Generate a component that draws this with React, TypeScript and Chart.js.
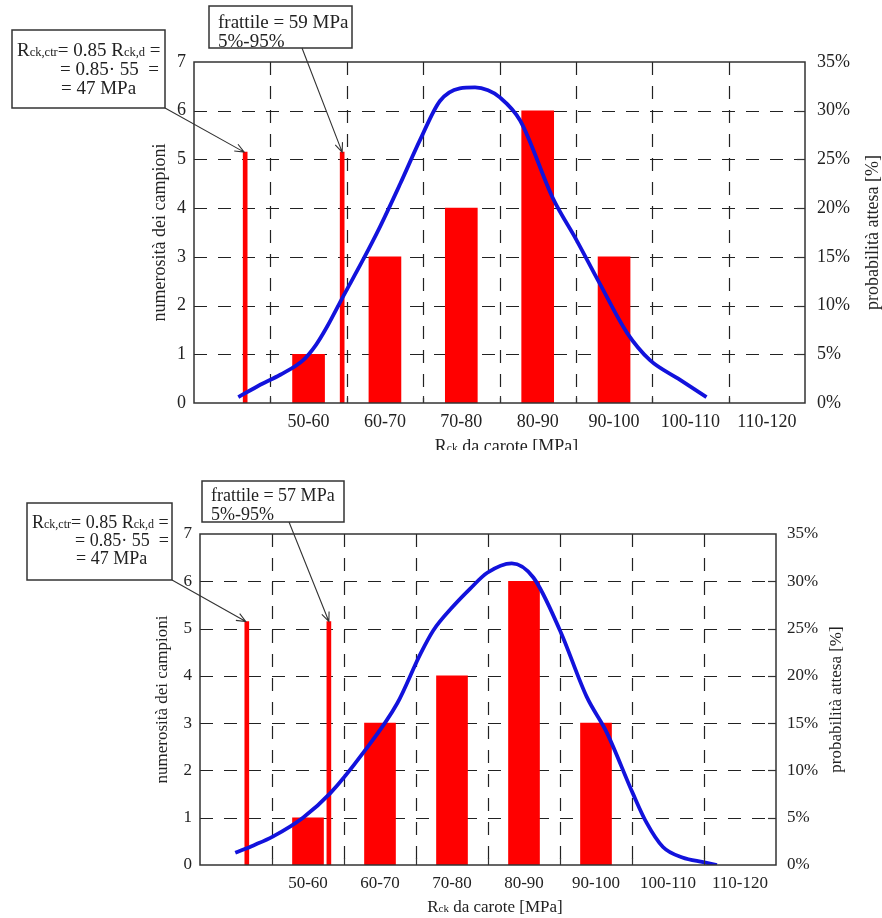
import React, { useEffect, useRef } from "react";
import { Chart, registerables } from "chart.js";

Chart.register(...registerables);

// ---------------- DATA ----------------
const xTickValues = [40, 50, 60, 70, 80, 90, 100, 110, 120];
const xTickLabels = ["", "50-60", "60-70", "70-80", "80-90", "90-100", "100-110", "110-120", ""];
const binCenters = [55, 65, 75, 85, 95];

const countsTop = [1, 3, 4, 6, 3];
const countsBottom = [1, 3, 4, 6, 3];

const markersTopX = [46.7, 59.4];
const markersTopY = [5.15, 5.15];
const markersBottomX = [46.5, 57.9];
const markersBottomY = [5.15, 5.15];

const curveTopX = [45.8, 48.5, 51.3, 54.3, 56.0, 57.4, 59.5, 62.0, 64.3, 67.0, 69.6, 72.2, 74.8, 76.8, 78.5, 80.0, 82.7, 87.0, 90.1, 93.1, 96.7, 99.7, 103.4, 107.1];
const curveTopY = [0.6, 1.8, 2.9, 4.4, 6.0, 7.8, 10.9, 14.5, 18.0, 22.5, 27.0, 31.0, 32.3, 32.4, 32.1, 31.4, 29.0, 21.0, 16.7, 12.3, 7.2, 4.4, 2.5, 0.6];

const curveBottomX = [44.9, 47.5, 50.1, 54.3, 58.1, 62.6, 67.4, 70.6, 72.4, 75.1, 77.5, 79.9, 83.3, 86.3, 90.0, 93.7, 96.5, 100.1, 102.0, 104.3, 107.0, 109.9, 111.8];
const curveBottomY = [1.3, 2.1, 3.0, 5.0, 7.6, 11.8, 17.1, 22.3, 24.8, 27.3, 29.2, 30.9, 31.9, 30.4, 24.8, 17.8, 14.0, 7.6, 4.5, 1.9, 0.8, 0.3, 0.0];

const fractileTop = ["frattile = 59 MPa", "5%-95%"];
const fractileBottom = ["frattile = 57 MPa", "5%-95%"];
const rckLine2 = "= 0.85· 55  =";
const rckLine3 = "= 47 MPa";
const leftTitle = "numerosità dei campioni";
const rightTitle = "probabilità attesa [%]";
const bottomTitleRuns = ["R", "ck", " da carote [MPa]"];

// ---------------- LAYOUT / STYLE ----------------
const FONT = '"Liberation Serif", "Times New Roman", serif';

const specTop = {
  top: 0, w: 882, h: 450,
  area: { left: 194, right: 805, top: 62, bottom: 403 },
  tick: 18, ann: 19, sub: 12.5, barW: 32, markerW: 4,
  leftTitleOff: 34, rightTitleOff: 68, bottomTitleOff: 49, rPad: 12, slot: 76.4,
  box1: { x: 12, y: 30, w: 153, h: 78, l1dx: 5, l23dx: 48, b: [26, 45, 64] },
  box2: { x: 209, y: 6, w: 143, h: 42, dx: 9, b: [22, 41], arrowDx: 93 },
};

const specBottom = {
  top: 460, w: 882, h: 458,
  area: { left: 200, right: 776, top: 74, bottom: 405 },
  tick: 17, ann: 18, sub: 12, barW: 31, markerW: 4,
  leftTitleOff: 37, rightTitleOff: 61, bottomTitleOff: 47, rPad: 11, slot: 72,
  box1: { x: 27, y: 43, w: 145, h: 77, l1dx: 5, l23dx: 48, b: [25, 43, 61] },
  box2: { x: 202, y: 21, w: 142, h: 41, dx: 9, b: [20, 39], arrowDx: 87 },
};

function drawRuns(ctx: CanvasRenderingContext2D, x: number, y: number, runs: [string, number][]) {
  let cx = x;
  for (const [t, size] of runs) {
    ctx.font = `${size}px ${FONT}`;
    ctx.fillText(t, cx, y);
    cx += ctx.measureText(t).width;
  }
  return cx;
}
function runsWidth(ctx: CanvasRenderingContext2D, runs: [string, number][]) {
  let w = 0;
  for (const [t, size] of runs) {
    ctx.font = `${size}px ${FONT}`;
    w += ctx.measureText(t).width;
  }
  return w;
}

function drawArrow(ctx: CanvasRenderingContext2D, x1: number, y1: number, x2: number, y2: number) {
  ctx.save();
  ctx.strokeStyle = "#333";
  ctx.lineWidth = 1.1;
  ctx.beginPath();
  ctx.moveTo(x1, y1);
  ctx.lineTo(x2, y2);
  const a = Math.atan2(y2 - y1, x2 - x1);
  const L = 10;
  ctx.moveTo(x2 - L * Math.cos(a - 0.4), y2 - L * Math.sin(a - 0.4));
  ctx.lineTo(x2, y2);
  ctx.lineTo(x2 - L * Math.cos(a + 0.4), y2 - L * Math.sin(a + 0.4));
  ctx.stroke();
  ctx.restore();
}

function makePlugin(spec: any, markersX: number[], markersY: number[], fractile: string[]) {
  return {
    id: "frame",
    beforeDatasetsDraw(chart: any) {
      const { ctx, chartArea: a } = chart;
      const xs = chart.scales.x;
      const ys = chart.scales.y;
      ctx.save();
      ctx.strokeStyle = "#222";
      ctx.lineWidth = 1.2;
      ctx.setLineDash([13, 11]);
      for (const v of xTickValues.slice(1, -1)) {
        const x = Math.round(xs.getPixelForValue(v)) + 0.5;
        ctx.beginPath();
        ctx.moveTo(x, a.top);
        ctx.lineTo(x, a.bottom);
        ctx.stroke();
      }
      for (let v = 1; v < 7; v++) {
        const y = Math.round(ys.getPixelForValue(v)) + 0.5;
        ctx.beginPath();
        ctx.moveTo(a.left, y);
        ctx.lineTo(a.right, y);
        ctx.stroke();
      }
      ctx.restore();
    },
    afterDatasetsDraw(chart: any) {
      const { ctx, chartArea: a } = chart;
      const xs = chart.scales.x;
      const ys = chart.scales.y;
      ctx.save();
      // frame
      ctx.strokeStyle = "#333";
      ctx.lineWidth = 1.5;
      ctx.strokeRect(a.left, a.top, a.right - a.left, a.bottom - a.top);
      ctx.lineWidth = 1.2;
      for (const v of xTickValues.slice(1, -1)) {
        const x = Math.round(xs.getPixelForValue(v)) + 0.5;
        ctx.beginPath();
        ctx.moveTo(x, a.bottom);
        ctx.lineTo(x, a.bottom - 7);
        ctx.stroke();
      }
      for (let v = 1; v < 7; v++) {
        const y = Math.round(ys.getPixelForValue(v)) + 0.5;
        ctx.beginPath();
        ctx.moveTo(a.right, y);
        ctx.lineTo(a.right - 8, y);
        ctx.stroke();
      }
      // titles
      ctx.fillStyle = "#222";
      ctx.textBaseline = "middle";
      ctx.textAlign = "center";
      ctx.font = `${spec.tick}px ${FONT}`;
      const cy = (a.top + a.bottom) / 2;
      ctx.save();
      ctx.translate(a.left - spec.leftTitleOff, cy);
      ctx.rotate(-Math.PI / 2);
      ctx.fillText(leftTitle, 0, 0);
      ctx.restore();
      ctx.save();
      ctx.translate(a.right + spec.rightTitleOff, cy);
      ctx.rotate(-Math.PI / 2);
      ctx.fillText(rightTitle, 0, 0);
      ctx.restore();
      ctx.textAlign = "left";
      ctx.textBaseline = "alphabetic";
      const bRuns: [string, number][] = [
        [bottomTitleRuns[0], spec.tick],
        [bottomTitleRuns[1], spec.sub - 1],
        [bottomTitleRuns[2], spec.tick],
      ];
      const bw = runsWidth(ctx, bRuns);
      drawRuns(ctx, (a.left + a.right) / 2 + 7 - bw / 2, a.bottom + spec.bottomTitleOff, bRuns);

      // annotation boxes
      const b1 = spec.box1;
      const b2 = spec.box2;
      ctx.fillStyle = "#fff";
      ctx.fillRect(b1.x, b1.y, b1.w, b1.h);
      ctx.fillRect(b2.x, b2.y, b2.w, b2.h);
      ctx.strokeStyle = "#333";
      ctx.lineWidth = 1.5;
      ctx.strokeRect(b1.x, b1.y, b1.w, b1.h);
      ctx.strokeRect(b2.x, b2.y, b2.w, b2.h);
      ctx.fillStyle = "#222";
      drawRuns(ctx, b1.x + b1.l1dx, b1.y + b1.b[0], [
        ["R", spec.ann], ["ck,ctr", spec.sub], ["= 0.85 R", spec.ann], ["ck,d", spec.sub], [" =", spec.ann],
      ]);
      drawRuns(ctx, b1.x + b1.l23dx, b1.y + b1.b[1], [[rckLine2, spec.ann]]);
      drawRuns(ctx, b1.x + b1.l23dx + 1, b1.y + b1.b[2], [[rckLine3, spec.ann]]);
      drawRuns(ctx, b2.x + b2.dx, b2.y + b2.b[0], [[fractile[0], spec.ann]]);
      drawRuns(ctx, b2.x + b2.dx, b2.y + b2.b[1], [[fractile[1], spec.ann]]);

      // arrows
      const t1x = xs.getPixelForValue(markersX[0]);
      const t1y = ys.getPixelForValue(markersY[0]);
      const t2x = xs.getPixelForValue(markersX[1]);
      const t2y = ys.getPixelForValue(markersY[1]);
      drawArrow(ctx, b1.x + b1.w, b1.y + b1.h, t1x - 1, t1y);
      drawArrow(ctx, b2.x + b2.arrowDx, b2.y + b2.h, t2x, t2y);
      ctx.restore();
    },
  };
}

function HistChart(props: {
  spec: any; counts: number[]; mX: number[]; mY: number[]; cX: number[]; cY: number[]; fractile: string[];
}) {
  const ref = useRef<HTMLCanvasElement>(null);
  const { spec, counts, mX, mY, cX, cY, fractile } = props;
  useEffect(() => {
    const tickFont = { family: FONT, size: spec.tick };
    const chart = new Chart(ref.current as HTMLCanvasElement, {
      type: "bar",
      data: {
        datasets: [
          {
            type: "line",
            data: cX.map((x, i) => ({ x, y: cY[i] })),
            yAxisID: "y2",
            borderColor: "#1212dc",
            borderWidth: 3.8,
            pointRadius: 0,
            cubicInterpolationMode: "monotone",
            fill: false,
            order: 0,
          } as any,
          {
            type: "bar",
            data: binCenters.map((x, i) => ({ x, y: counts[i] })),
            yAxisID: "y",
            backgroundColor: "#ff0000",
            barThickness: spec.barW,
            grouped: false,
            order: 1,
          } as any,
          {
            type: "bar",
            data: mX.map((x, i) => ({ x, y: mY[i] })),
            yAxisID: "y",
            backgroundColor: "#ff0000",
            barThickness: spec.markerW,
            grouped: false,
            order: 2,
          } as any,
        ],
      },
      options: {
        responsive: false,
        animation: false,
        layout: { padding: { top: spec.area.top, left: 0, right: 0, bottom: 0 } },
        plugins: { legend: { display: false }, tooltip: { enabled: false } },
        scales: {
          x: {
            type: "linear",
            min: 40,
            max: 120,
            offset: false,
            grid: { display: false, drawTicks: false },
            border: { display: false },
            ticks: {
              stepSize: 10,
              autoSkip: false,
              maxRotation: 0,
              minRotation: 0,
              padding: 8,
              labelOffset: spec.slot / 2,
              color: "#222",
              font: tickFont,
              callback: (v: any) => {
                const i = xTickValues.indexOf(Number(v));
                return i >= 0 ? xTickLabels[i] : "";
              },
            },
            afterFit: (s: any) => { s.height = spec.h - spec.area.bottom; },
          },
          y: {
            position: "left",
            min: 0,
            max: 7,
            grid: { display: false, drawTicks: false },
            border: { display: false },
            ticks: { stepSize: 1, padding: 8, color: "#222", font: tickFont },
            afterFit: (s: any) => { s.width = spec.area.left; },
          },
          y2: {
            position: "right",
            min: 0,
            max: 35,
            grid: { display: false, drawTicks: false },
            border: { display: false },
            ticks: { stepSize: 5, padding: spec.rPad, color: "#222", font: tickFont, callback: (v: any) => `${v}%` },
            afterFit: (s: any) => { s.width = spec.w - spec.area.right; },
          },
        },
      } as any,
      plugins: [makePlugin(spec, mX, mY, fractile)],
    });
    return () => chart.destroy();
  }, []);
  return (
    <canvas
      ref={ref}
      width={spec.w}
      height={spec.h}
      style={{ position: "absolute", left: 0, top: spec.top, width: spec.w, height: spec.h }}
    />
  );
}

export default function App() {
  return (
    <div style={{ position: "absolute", left: 0, top: 0, width: 882, height: 918, background: "#fff" }}>
      <HistChart spec={specTop} counts={countsTop} mX={markersTopX} mY={markersTopY} cX={curveTopX} cY={curveTopY} fractile={fractileTop} />
      <HistChart spec={specBottom} counts={countsBottom} mX={markersBottomX} mY={markersBottomY} cX={curveBottomX} cY={curveBottomY} fractile={fractileBottom} />
    </div>
  );
}
